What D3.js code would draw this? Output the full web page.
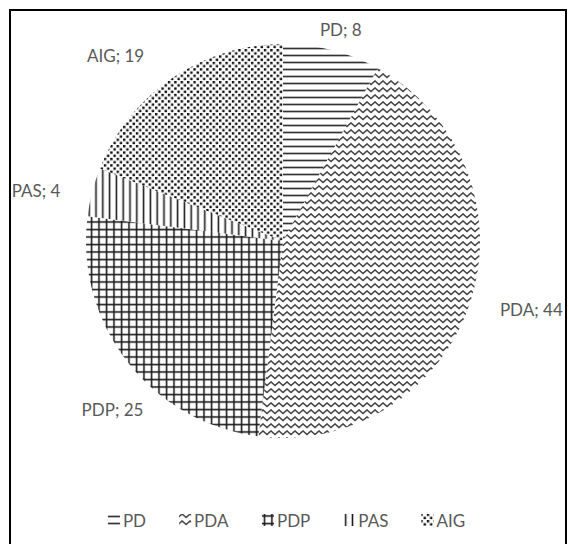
<!DOCTYPE html>
<html>
<head>
<meta charset="utf-8">
<script src="https://cdn.jsdelivr.net/npm/d3@7"></script>
<style>
  html, body { margin: 0; padding: 0; background: #fff; }
  svg { display: block; }
  text { font-family: Lato, "Open Sans", sans-serif; }
</style>
</head>
<body>
<script>
// Shares of each category (percent)
const categories = ["PD", "PDA", "PDP", "PAS", "AIG"];
const values = [8, 44, 25, 4, 19];
const patternIds = ["pat-hlines", "pat-zigzag", "pat-grid", "pat-vlines", "pat-dots"];

const W = 569, H = 544;
const cx = 283, cy = 241, radius = 197;

const svg = d3.select("body").append("svg")
  .attr("width", W).attr("height", H);

const defs = svg.append("defs");

// Horizontal lines
const p1 = defs.append("pattern").attr("id", patternIds[0])
  .attr("patternUnits", "userSpaceOnUse").attr("width", 8).attr("height", 7);
p1.append("rect").attr("width", 8).attr("height", 7).attr("fill", "#fff");
p1.append("line").attr("x1", 0).attr("x2", 8).attr("y1", 3.5).attr("y2", 3.5)
  .attr("stroke", "#333").attr("stroke-width", 1.7);

// Zigzag waves
const p2 = defs.append("pattern").attr("id", patternIds[1])
  .attr("patternUnits", "userSpaceOnUse").attr("width", 8).attr("height", 7);
p2.append("rect").attr("width", 8).attr("height", 7).attr("fill", "#fff");
p2.append("path").attr("d", "M-2,2 L0,4.5 L4,1 L8,4.5 L10,2")
  .attr("fill", "none").attr("stroke", "#444").attr("stroke-width", 1.6);

// Grid
const p3 = defs.append("pattern").attr("id", patternIds[2])
  .attr("patternUnits", "userSpaceOnUse").attr("width", 7.5).attr("height", 7.5);
p3.append("rect").attr("width", 7.5).attr("height", 7.5).attr("fill", "#fff");
p3.append("line").attr("x1", 0).attr("x2", 7.5).attr("y1", 3.5).attr("y2", 3.5)
  .attr("stroke", "#1a1a1a").attr("stroke-width", 1.6);
p3.append("line").attr("y1", 0).attr("y2", 7.5).attr("x1", 3.5).attr("x2", 3.5)
  .attr("stroke", "#1a1a1a").attr("stroke-width", 1.6);

// Vertical lines
const p4 = defs.append("pattern").attr("id", patternIds[3])
  .attr("patternUnits", "userSpaceOnUse").attr("width", 6.8).attr("height", 8);
p4.append("rect").attr("width", 6.8).attr("height", 8).attr("fill", "#fff");
p4.append("line").attr("y1", 0).attr("y2", 8).attr("x1", 3.4).attr("x2", 3.4)
  .attr("stroke", "#1a1a1a").attr("stroke-width", 1.6);

// Dotted
const ds = 6.4, dot = 2.4;
const p5 = defs.append("pattern").attr("id", patternIds[4])
  .attr("patternUnits", "userSpaceOnUse").attr("width", ds).attr("height", ds);
p5.append("rect").attr("width", ds).attr("height", ds).attr("fill", "#fff");
p5.append("rect").attr("x", 0).attr("y", 0).attr("width", dot).attr("height", dot).attr("fill", "#111");
p5.append("rect").attr("x", ds / 2).attr("y", ds / 2).attr("width", dot).attr("height", dot).attr("fill", "#111");

// Chart frame
svg.append("rect")
  .attr("x", 10).attr("y", 10).attr("width", 556).attr("height", 545)
  .attr("fill", "none").attr("stroke", "#000").attr("stroke-width", 2);

const data = categories.map((c, i) => ({ name: c, value: values[i], pat: patternIds[i] }));

const pie = d3.pie().value(d => d.value).sort(null);
const arcs = pie(data);
const arc = d3.arc().innerRadius(0).outerRadius(radius);

const g = svg.append("g").attr("transform", `translate(${cx},${cy})`);

g.selectAll("path.slice")
  .data(arcs)
  .join("path")
  .attr("class", "slice")
  .attr("d", arc)
  .attr("fill", d => `url(#${d.data.pat})`);

// Data labels outside the slices
const labelColor = "#595959";
const fontSize = 17;
const labelNudge = { PD: [2, 6], PDA: [18, -6], PDP: [19, 21], PAS: [-19, 8], AIG: [-36, 8] };

const labels = g.selectAll("text.lbl")
  .data(arcs)
  .join("text")
  .attr("class", "lbl")
  .attr("font-size", fontSize)
  .attr("fill", labelColor)
  .attr("text-anchor", "middle")
  .attr("dominant-baseline", "central")
  .text(d => `${d.data.name}; ${d.data.value}`);

labels.each(function (d) {
  const bb = this.getBBox();
  const a = (d.startAngle + d.endAngle) / 2;
  const s = Math.sin(a), c = Math.cos(a);
  const R = radius + 12 + Math.abs(s) * bb.width / 2 + Math.abs(c) * bb.height / 2;
  const n = labelNudge[d.data.name] || [0, 0];
  d3.select(this)
    .attr("x", R * s + n[0])
    .attr("y", -R * c + n[1]);
});

// Legend: small pattern swatch followed by the category name
const legend = svg.append("g");
const items = legend.selectAll("g.item").data(data).join("g").attr("class", "item");
items.append("rect")
  .attr("x", 1).attr("y", -6)
  .attr("width", 12).attr("height", 12)
  .attr("fill", d => `url(#${d.pat})`);
items.append("text")
  .attr("x", 16)
  .attr("font-size", fontSize)
  .attr("fill", labelColor)
  .attr("dominant-baseline", "central")
  .text(d => d.name);

let xPos = 0;
const gap = 32;
items.each(function () {
  const w = this.getBBox().width + 1;
  d3.select(this).attr("transform", `translate(${xPos},0)`);
  xPos += w + gap;
});
const totalW = xPos - gap;
legend.attr("transform", `translate(${cx + 3 - totalW / 2},520)`);
</script>
</body>
</html>
